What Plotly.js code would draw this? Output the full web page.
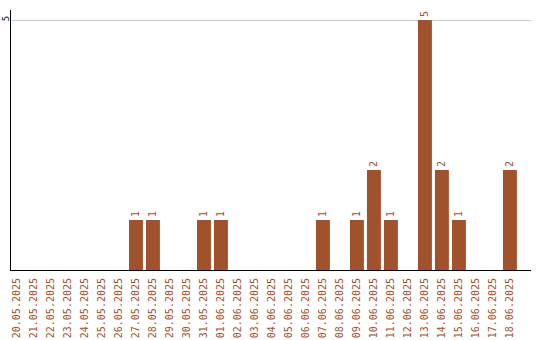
<!DOCTYPE html>
<html>
<head>
<meta charset="utf-8">
<script src="https://cdn.plot.ly/plotly-3.0.1.min.js"></script>
<style>html,body{margin:0;padding:0;background:#fff;}#chart{width:540px;height:340px;}</style>
</head>
<body>
<div id="chart"></div>
<script>
const dates = ["20.05.2025","21.05.2025","22.05.2025","23.05.2025","24.05.2025","25.05.2025","26.05.2025","27.05.2025","28.05.2025","29.05.2025","30.05.2025","31.05.2025","01.06.2025","02.06.2025","03.06.2025","04.06.2025","05.06.2025","06.06.2025","07.06.2025","08.06.2025","09.06.2025","10.06.2025","11.06.2025","12.06.2025","13.06.2025","14.06.2025","15.06.2025","16.06.2025","17.06.2025","18.06.2025"];
const counts = [0,0,0,0,0,0,0,1,1,0,0,1,1,0,0,0,0,0,1,0,1,2,1,0,5,2,1,0,0,2];
const labels = counts.map(v => v > 0 ? String(v) : "");
const yTicks = [5];

const barColor = "#A0522D";
const fontFam = "DejaVu Sans Mono, monospace";

Plotly.newPlot("chart", [{
  type: "bar",
  x: dates,
  y: counts,
  text: labels,
  textposition: "outside",
  textangle: -90,
  cliponaxis: false,
  textfont: {family: fontFam, size: 10, color: barColor},
  marker: {color: barColor},
  hoverinfo: "none"
}], {
  width: 540, height: 340,
  margin: {l: 11, r: 9, t: 10, b: 70},
  paper_bgcolor: "#fff", plot_bgcolor: "#fff",
  bargap: 0.18,
  showlegend: false,
  xaxis: {
    type: "category",
    range: [-0.35, 30.24],
    tickangle: -90,
    ticklabelstandoff: 3,
    tickfont: {family: fontFam, size: 10, color: barColor},
    showline: true, linecolor: "#000", linewidth: 1,
    showgrid: false, ticks: "", zeroline: false
  },
  yaxis: {
    range: [0, 5.2],
    tickvals: yTicks,
    ticktext: yTicks.map(String),
    tickangle: -90,
    ticklabelstandoff: -3,
    tickfont: {family: fontFam, size: 9, color: "#000"},
    showline: true, linecolor: "#000", linewidth: 1,
    showgrid: true, gridcolor: "#cccccc", gridwidth: 1,
    ticks: "", zeroline: false
  }
}, {staticPlot: true});
</script>
</body>
</html>
